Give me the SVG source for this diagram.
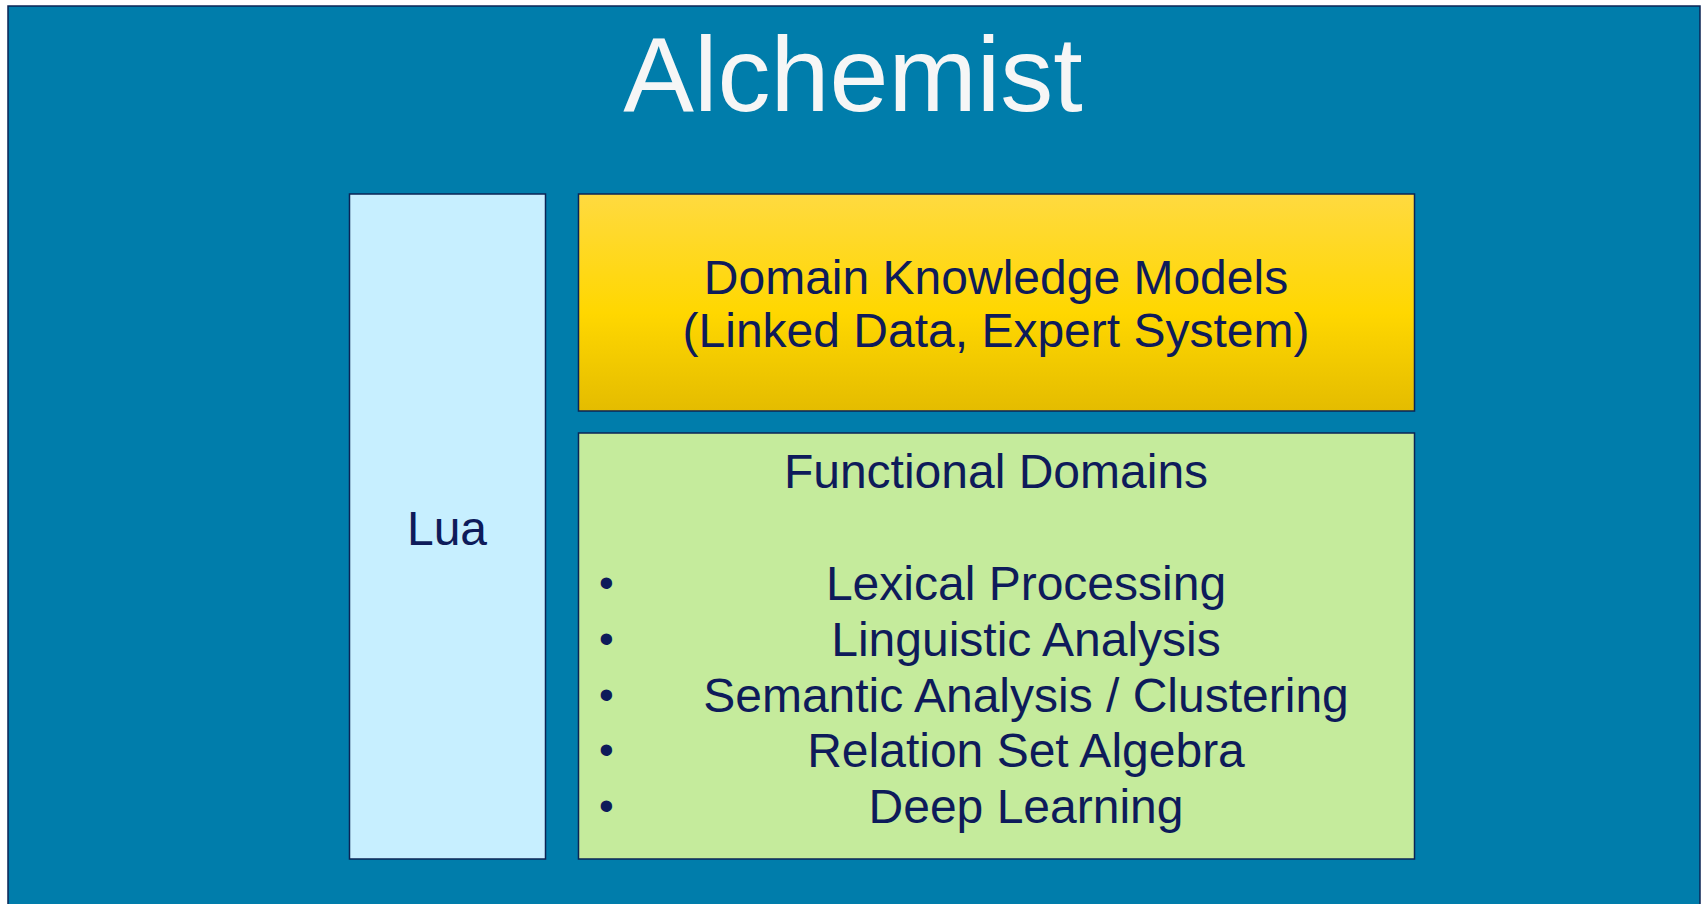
<svg xmlns="http://www.w3.org/2000/svg" width="1702" height="904" viewBox="0 0 1702 904">
<defs>
<linearGradient id="gold" x1="0" y1="0" x2="0" y2="1">
<stop offset="0" stop-color="#FFDA40"/>
<stop offset="0.55" stop-color="#FFD700"/>
<stop offset="1" stop-color="#E4BC00"/>
</linearGradient>
</defs>
<style>
.box{stroke:#0B2455;stroke-width:1.5}
.t{font-family:"Liberation Sans",Arial,sans-serif;fill:#0E1B5A;font-size:48px}
.b{font-family:"Liberation Sans",Arial,sans-serif;fill:#0E1B5A;font-size:42px}
.c{text-anchor:middle}
</style>
<rect width="1702" height="904" fill="#FFFFFF"/>
<g id="frame">
<rect x="8" y="6" width="1692" height="910" fill="#007DAB" stroke="#0B2455" stroke-width="1.5"/>
<text x="853" y="111" text-anchor="middle" font-family="'Liberation Sans',Arial,sans-serif" font-size="106" fill="#F6F6F6">Alchemist</text>
</g>
<g id="lua">
<rect class="box" x="349.5" y="194" width="196" height="665" fill="#C7EFFF"/>
<text class="t c" x="447" y="545">Lua</text>
</g>
<g id="domain-knowledge">
<rect class="box" x="578.5" y="194" width="836" height="217" fill="url(#gold)"/>
<text class="t c" x="996" y="294">Domain Knowledge Models</text>
<text class="t c" x="996" y="347">(Linked Data, Expert System)</text>
</g>
<g id="functional-domains">
<rect class="box" x="578.5" y="433" width="836" height="426" fill="#C5EB9C"/>
<text class="t c" x="996" y="488">Functional Domains</text>
<text class="b" x="599" y="597">•</text>
<text class="b" x="599" y="653">•</text>
<text class="b" x="599" y="709">•</text>
<text class="b" x="599" y="764">•</text>
<text class="b" x="599" y="820">•</text>
<text class="t c" x="1026" y="600">Lexical Processing</text>
<text class="t c" x="1026" y="656">Linguistic Analysis</text>
<text class="t c" x="1026" y="712">Semantic Analysis / Clustering</text>
<text class="t c" x="1026" y="767">Relation Set Algebra</text>
<text class="t c" x="1026" y="823">Deep Learning</text>
</g>
<g id="connectors"></g>
</svg>
